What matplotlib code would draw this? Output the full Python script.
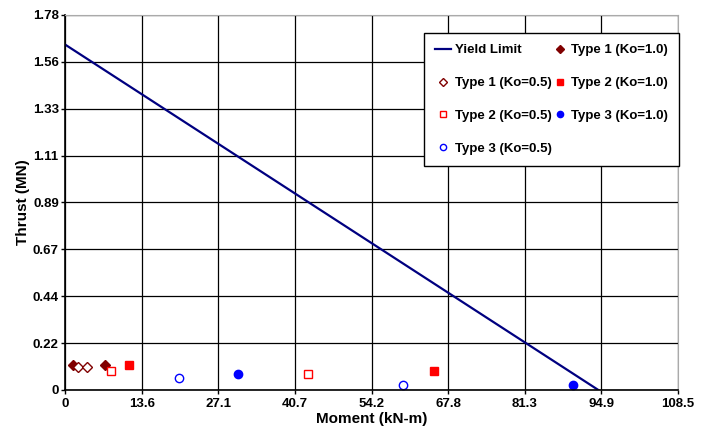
import matplotlib
matplotlib.use('Agg')
import matplotlib.pyplot as plt
import numpy as np

plt.rcParams['font.family'] = ['Liberation Sans', 'DejaVu Sans']
plt.rcParams['font.weight'] = 'bold'

# data
yield_x = [0.0, 94.4]
yield_y = [1.64, 0.0]

t1_k10_x = [1.5, 7.0]
t1_k10_y = [0.117, 0.117]
t1_k05_x = [2.3, 3.95]
t1_k05_y = [0.107, 0.107]

t2_k10_x = [11.3, 65.4]
t2_k10_y = [0.118, 0.091]
t2_k05_x = [8.1, 43.0]
t2_k05_y = [0.090, 0.074]

t3_k10_x = [30.7, 90.0]
t3_k10_y = [0.074, 0.022]
t3_k05_x = [20.2, 59.8]
t3_k05_y = [0.055, 0.024]

x_ticks = [0, 13.6, 27.1, 40.7, 54.2, 67.8, 81.3, 94.9, 108.5]
y_ticks = [0, 0.22, 0.44, 0.67, 0.89, 1.11, 1.33, 1.56, 1.78]

fig = plt.figure(figsize=(7.12, 4.32), dpi=100)
ax = fig.add_axes([65/712, 42/432, 613/712, 375/432])

ax.set_xlim(0, 108.5)
ax.set_ylim(0, 1.78)
ax.set_xticks(np.linspace(0, 108.5, 9))
ax.set_xticklabels(['0' if v == 0 else '%.1f' % v for v in x_ticks])
ax.set_yticks(np.linspace(0, 1.78, 9))
ax.set_yticklabels(['0' if v == 0 else '%.2f' % v for v in y_ticks])
ax.grid(True, color='black', linewidth=0.9)
ax.set_axisbelow(True)
ax.tick_params(axis='both', labelsize=9.5, length=3, width=1, colors='black')
ax.tick_params(axis='y', pad=1.5)
ax.tick_params(axis='x', pad=3)

for s in ['top', 'right']:
    ax.spines[s].set_color('#aaaaaa')
for s in ['left', 'bottom']:
    ax.spines[s].set_color('black')
    ax.spines[s].set_linewidth(1.2)

h_yield, = ax.plot(yield_x, yield_y, color='#000080', linewidth=1.6, label='Yield Limit')
h_t1a, = ax.plot(t1_k10_x, t1_k10_y, 'D', color='#800000', markersize=5, linestyle='none', label='Type 1 (Ko=1.0)')
h_t1b, = ax.plot(t1_k05_x, t1_k05_y, 'D', color='#800000', markerfacecolor='white', markersize=5, linestyle='none', label='Type 1 (Ko=0.5)')
h_t2a, = ax.plot(t2_k10_x, t2_k10_y, 's', color='#ff0000', markersize=6, linestyle='none', label='Type 2 (Ko=1.0)')
h_t2b, = ax.plot(t2_k05_x, t2_k05_y, 's', color='#ff0000', markerfacecolor='white', markersize=6, linestyle='none', label='Type 2 (Ko=0.5)')
h_t3a, = ax.plot(t3_k10_x, t3_k10_y, 'o', color='#0000ff', markersize=6, linestyle='none', label='Type 3 (Ko=1.0)')
h_t3b, = ax.plot(t3_k05_x, t3_k05_y, 'o', color='#0000ff', markerfacecolor='white', markersize=6, linestyle='none', label='Type 3 (Ko=0.5)')

# matplotlib fills legend columns first, so order so rows read like the original
handles = [h_yield, h_t1b, h_t2b, h_t3b, h_t1a, h_t2a, h_t3a]
leg = ax.legend(handles=handles, ncol=2, loc='upper left',
                bbox_to_anchor=(0.586, 0.952), borderaxespad=0,
                fontsize=9.5, fancybox=False, framealpha=1, edgecolor='black',
                handlelength=1.2, handletextpad=0.25, columnspacing=0.05,
                labelspacing=1.55, borderpad=0.85, numpoints=1, markerscale=0.75)
leg.get_frame().set_linewidth(1.0)

ax.set_xlabel('Moment (kN-m)', fontsize=11, fontweight='bold', labelpad=1)
ax.set_ylabel('Thrust (MN)', fontsize=11, fontweight='bold', labelpad=2)

fig.savefig('out.png', dpi=100)
